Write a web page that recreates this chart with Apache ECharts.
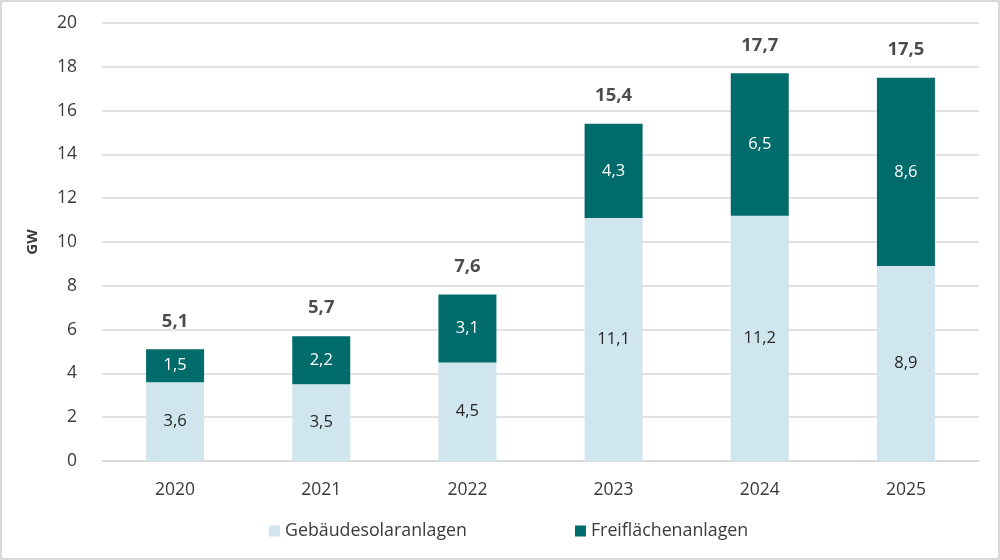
<!DOCTYPE html>
<html><head><meta charset="utf-8">
<script src="https://cdn.jsdelivr.net/npm/echarts@6/dist/echarts.min.js"></script>
<style>html,body{margin:0;padding:0;background:#fff}
#c{width:1000px;height:560px;box-sizing:border-box;border:2px solid #d9d9d9;position:relative}
#chart{position:absolute;left:-2px;top:-2px;width:1000px;height:560px}</style>
</head><body><div id="c"><div id="chart"></div></div>
<script>
const categories = ['2020','2021','2022','2023','2024','2025'];
const gebaeude = [3.6, 3.5, 4.5, 11.1, 11.2, 8.9];
const freiflaeche = [1.5, 2.2, 3.1, 4.3, 6.5, 8.6];
const totals = [5.1, 5.7, 7.6, 15.4, 17.7, 17.5];
const yTicks = [0,2,4,6,8,10,12,14,16,18,20];

const fmt = v => String(v.toFixed(1)).replace('.', ',');
const FONT = '"Open Sans", "Noto Sans", sans-serif';
const chart = echarts.init(document.getElementById('chart'));
chart.setOption({
  animation: false,
  textStyle: {fontFamily: FONT},
  grid: {left: 102, right: 21, top: 23, bottom: 99},
  legend: {
    data: ['Gebäudesolaranlagen', 'Freiflächenanlagen'],
    bottom: 15, left: 264, itemWidth: 11, itemHeight: 11, itemGap: 108,
    icon: 'rect',
    textStyle: {fontSize: 17.8, color: '#3a3a3a', fontFamily: FONT}
  },
  xAxis: {
    type: 'category', data: categories,
    axisLine: {lineStyle: {color: '#d9d9d9', width: 1.5}},
    axisTick: {show: false},
    axisLabel: {fontSize: 17.5, color: '#3a3a3a', margin: 20}
  },
  yAxis: {
    type: 'value', min: yTicks[0], max: yTicks[yTicks.length-1], interval: 2,
    name: 'GW', nameLocation: 'middle', nameGap: 62,
    nameTextStyle: {fontSize: 15, fontWeight: 'bold', color: '#3a3a3a'},
    axisLine: {show: false}, axisTick: {show: false},
    axisLabel: {fontSize: 17.5, color: '#3a3a3a', margin: 25},
    splitLine: {lineStyle: {color: '#d9d9d9', width: 1.5}}
  },
  series: [
    {name: 'Gebäudesolaranlagen', type: 'bar', stack: 's', data: gebaeude, barWidth: 58,
     itemStyle: {color: '#d0e6ee'},
     label: {show: true, position: 'inside', fontSize: 16.5, color: '#262626', formatter: p => fmt(p.value)}},
    {name: 'Freiflächenanlagen', type: 'bar', stack: 's', data: freiflaeche, barWidth: 58,
     itemStyle: {color: '#006b6b'},
     label: {show: true, position: 'inside', fontSize: 16.5, color: '#ffffff', formatter: p => fmt(p.value)}},
    {name: 'Gesamt', type: 'scatter', data: totals, symbolSize: 1,
     itemStyle: {color: 'rgba(0,0,0,0)'},
     label: {show: true, position: 'top', distance: 18, fontSize: 18.5, fontWeight: 'bold', color: '#1f1f1f', formatter: p => fmt(p.value)}}
  ]
});
</script></body></html>
